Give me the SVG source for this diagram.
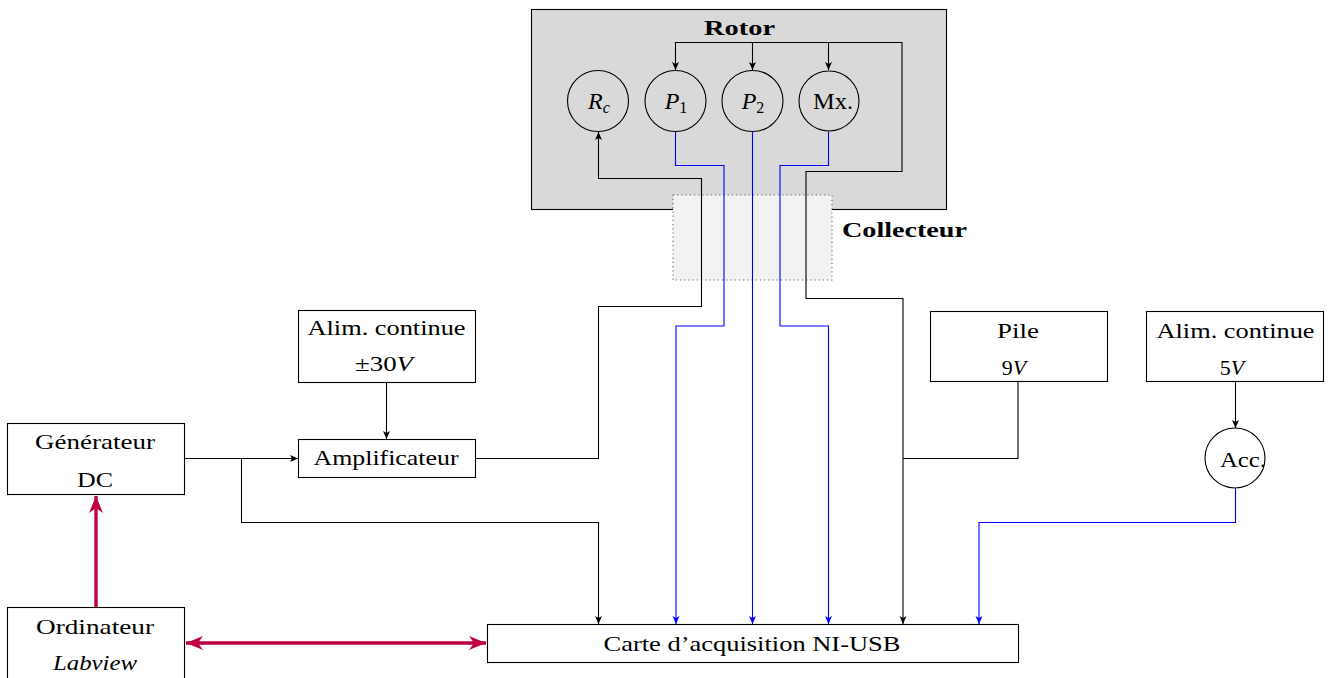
<svg xmlns="http://www.w3.org/2000/svg" width="1330" height="678" viewBox="0 0 1330 678">
<style>
.t{font-family:"Liberation Serif","Times New Roman",serif;font-size:22px;fill:#000;text-anchor:middle}
.c{font-size:24px}
.b{font-weight:bold}
.i{font-style:italic}
.box{fill:#fff;stroke:#000;stroke-width:1.1}
.circ{fill:none;stroke:#000;stroke-width:1.1}
.k{fill:none;stroke:#000;stroke-width:1.1}
.bl{fill:none;stroke:#0000ff;stroke-width:1.1}
.pu{fill:none;stroke:#bf0040;stroke-width:3.4}
</style>
<defs>
<marker id="ak" markerUnits="userSpaceOnUse" markerWidth="12" markerHeight="10" refX="9" refY="4" orient="auto">
<path d="M1,0.5 L9,4 L1,7.5 L3,4 Z" fill="#000"/>
</marker>
<marker id="ab" markerUnits="userSpaceOnUse" markerWidth="12" markerHeight="10" refX="9" refY="4" orient="auto">
<path d="M1,0.5 L9,4 L1,7.5 L3,4 Z" fill="#0000ff"/>
</marker>
<marker id="ap" markerUnits="userSpaceOnUse" markerWidth="22" markerHeight="18" refX="18" refY="8" orient="auto-start-reverse">
<path d="M1,1 L18,8 L1,15 L6,8 Z" fill="#bf0040"/>
</marker>
</defs>

<g id="rotor">
<rect x="531.5" y="9.5" width="415" height="200" fill="#d9d9d9" stroke="#000" stroke-width="1.1"/>
<text class="t b" x="739.5" y="35" textLength="71" lengthAdjust="spacingAndGlyphs">Rotor</text>
</g>
<g id="collecteur">
<rect x="673" y="195" width="159" height="85" fill="#f2f2f2" stroke="#666" stroke-width="1.1" stroke-dasharray="1.2,3"/>
<text class="t b" x="842" y="237" style="text-anchor:start" textLength="125" lengthAdjust="spacingAndGlyphs">Collecteur</text>
</g>
<g id="Rc">
<circle class="circ" cx="598" cy="101" r="30.5"/>
<text class="t c" x="599" y="109"><tspan class="i">R</tspan><tspan class="i" font-size="16" dy="4">c</tspan></text>
</g>
<g id="P1">
<circle class="circ" cx="675.5" cy="101" r="30.5"/>
<text class="t c" x="676" y="109"><tspan class="i">P</tspan><tspan font-size="16" dy="4">1</tspan></text>
</g>
<g id="P2">
<circle class="circ" cx="752.5" cy="101" r="30.5"/>
<text class="t c" x="753" y="109"><tspan class="i">P</tspan><tspan font-size="16" dy="4">2</tspan></text>
</g>
<g id="Mx">
<circle class="circ" cx="829" cy="101" r="30"/>
<text class="t c" x="833" y="109" textLength="40" lengthAdjust="spacingAndGlyphs">Mx.</text>
</g>

<g id="alim30">
<rect class="box" x="298.5" y="310.5" width="177" height="72"/>
<text class="t" x="386.5" y="335" textLength="158" lengthAdjust="spacingAndGlyphs">Alim. continue</text>
<text class="t" x="384" y="371" textLength="58" lengthAdjust="spacingAndGlyphs">±30<tspan class="i">V</tspan></text>
</g>
<g id="ampli">
<rect class="box" x="298.5" y="439.5" width="177" height="38"/>
<text class="t" x="386" y="465" textLength="145" lengthAdjust="spacingAndGlyphs">Amplificateur</text>
</g>
<g id="generateur">
<rect class="box" x="7.5" y="423.5" width="177" height="71"/>
<text class="t" x="95" y="449" textLength="120" lengthAdjust="spacingAndGlyphs">Générateur</text>
<text class="t" x="95" y="487" textLength="36" lengthAdjust="spacingAndGlyphs">DC</text>
</g>
<g id="ordinateur">
<rect class="box" x="7.5" y="607.5" width="177" height="75"/>
<text class="t" x="95" y="634" textLength="118" lengthAdjust="spacingAndGlyphs">Ordinateur</text>
<text class="t i" x="95" y="670" textLength="84" lengthAdjust="spacingAndGlyphs">Labview</text>
</g>
<g id="carte">
<rect class="box" x="487.5" y="624.5" width="531" height="38"/>
<text class="t" x="752" y="651" textLength="297" lengthAdjust="spacingAndGlyphs">Carte d’acquisition NI-USB</text>
</g>
<g id="pile">
<rect class="box" x="930.5" y="311.5" width="177" height="70"/>
<text class="t" x="1018" y="338" textLength="42" lengthAdjust="spacingAndGlyphs">Pile</text>
<text class="t" x="1014" y="375">9<tspan class="i">V</tspan></text>
</g>
<g id="alim5">
<rect class="box" x="1146.5" y="311.5" width="177" height="70"/>
<text class="t" x="1235.5" y="338" textLength="158" lengthAdjust="spacingAndGlyphs">Alim. continue</text>
<text class="t" x="1232" y="375">5<tspan class="i">V</tspan></text>
</g>
<g id="acc">
<circle cx="1235" cy="458" r="30" fill="#fff" stroke="#000" stroke-width="1.1"/>
<text class="t" x="1220" y="467" style="text-anchor:start" textLength="46" lengthAdjust="spacingAndGlyphs">Acc.</text>
</g>

<g id="connectors">
<path class="k" d="M1018,382 V458.5 H903"/>
<path class="k" d="M903,458.5 V298.5 H806 V171.5 H902 V42.5 H675.5 V70" marker-end="url(#ak)"/>
<path class="k" d="M752.5,42.5 V70" marker-end="url(#ak)"/>
<path class="k" d="M828.5,42.5 V70" marker-end="url(#ak)"/>
<path class="k" d="M903,458.5 V624" marker-end="url(#ak)"/>
<path class="k" d="M475.5,458.5 H598.5 V306.5 H701.5 V178.5 H598.5 V132" marker-end="url(#ak)"/>
<path class="k" d="M184.5,458.5 H298" marker-end="url(#ak)"/>
<path class="k" d="M241.5,458.5 V522.5 H598.5 V624" marker-end="url(#ak)"/>
<path class="k" d="M386.5,382.5 V439" marker-end="url(#ak)"/>
<path class="k" d="M1235.5,381.5 V428" marker-end="url(#ak)"/>
<path class="bl" d="M675.5,131.5 V165.5 H724 V326 H676 V624" marker-end="url(#ab)"/>
<path class="bl" d="M752.5,131.5 V624" marker-end="url(#ab)"/>
<path class="bl" d="M828.5,131.5 V165.5 H780 V326 H828.5 V624" marker-end="url(#ab)"/>
<path class="bl" d="M1235.5,488 V522.5 H979 V624" marker-end="url(#ab)"/>
<path class="pu" d="M96,607 V496" marker-end="url(#ap)"/>
<path class="pu" d="M186,643 H486" marker-start="url(#ap)" marker-end="url(#ap)"/>
</g>
</svg>
